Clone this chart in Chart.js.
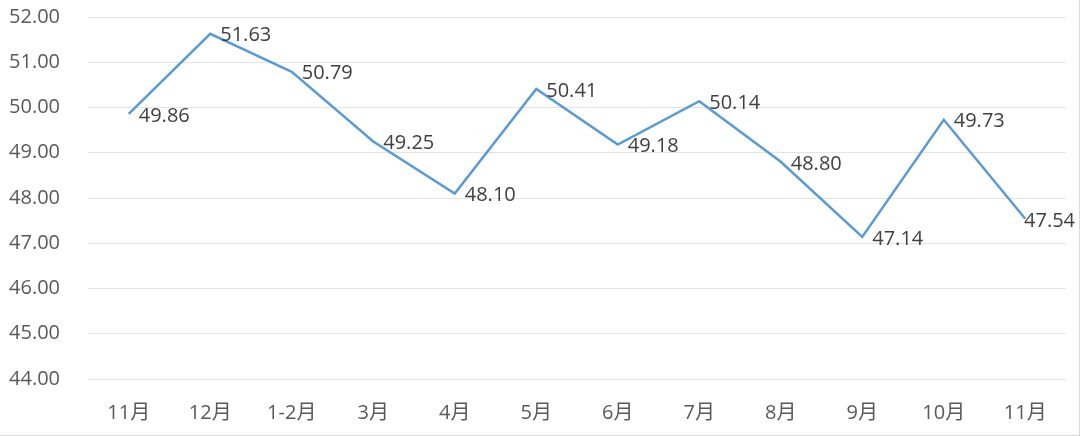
<!DOCTYPE html>
<html>
<head>
<meta charset="utf-8">
<script src="https://cdn.jsdelivr.net/npm/chart.js@4"></script>
<style>
    html, body { margin: 0; padding: 0; background: #ffffff; }
    #wrap { position: relative; width: 1080px; height: 436px; box-sizing: border-box; border-right: 1px solid #d9d9d9; border-bottom: 1px solid #d9d9d9; }
</style>
</head>
<body>
<div id="wrap"><canvas id="lineChart" width="1079" height="435"></canvas></div>
<script>
// Chart data
const months = ['11月', '12月', '1-2月', '3月', '4月', '5月', '6月', '7月', '8月', '9月', '10月', '11月'];
const values = [49.86, 51.63, 50.79, 49.25, 48.10, 50.41, 49.18, 50.14, 48.80, 47.14, 49.73, 47.54];
const yTicks = [44, 45, 46, 47, 48, 49, 50, 51, 52];

const fontFamily = "'Open Sans', 'Noto Sans CJK SC', sans-serif";

// Draw value labels to the right of each point
const valueLabels = {
    id: 'valueLabels',
    afterDatasetsDraw(chart) {
        const ctx = chart.ctx;
        const meta = chart.getDatasetMeta(0);
        ctx.save();
        ctx.font = '20px ' + fontFamily;
        ctx.fillStyle = '#404040';
        ctx.textAlign = 'left';
        ctx.textBaseline = 'middle';
        meta.data.forEach((pt, i) => {
            const text = values[i].toFixed(2);
            const w = ctx.measureText(text).width;
            let x = pt.x + 10;
            if (x + w > chart.width - 4) x = chart.width - 4 - w;
            ctx.fillText(text, x, pt.y + 2);
        });
        ctx.restore();
    }
};

const ctx = document.getElementById('lineChart').getContext('2d');

new Chart(ctx, {
    type: 'line',
    data: {
        labels: months,
        datasets: [{
            data: values,
            borderColor: '#5b9bd5',
            borderWidth: 2.5,
            pointRadius: 0,
            tension: 0,
            fill: false
        }]
    },
    options: {
        responsive: false,
        animation: false,
        layout: {
            padding: { top: 17, right: 13, bottom: 0, left: 0 }
        },
        plugins: {
            legend: { display: false },
            tooltip: { enabled: false }
        },
        scales: {
            x: {
                offset: true,
                grid: { display: false, drawTicks: false },
                border: { display: false },
                ticks: {
                    color: '#595959',
                    font: { size: 20, family: fontFamily },
                    padding: 22,
                    autoSkip: false,
                    maxRotation: 0
                },
                afterFit(scale) { scale.height = 56; }
            },
            y: {
                min: 44,
                max: 52,
                afterBuildTicks(scale) {
                    scale.ticks = yTicks.map(v => ({ value: v }));
                },
                grid: { color: '#e4e4e4', lineWidth: 1, drawTicks: false },
                border: { display: false },
                ticks: {
                    color: '#595959',
                    font: { size: 20, family: fontFamily },
                    padding: 28,
                    callback: v => Number(v).toFixed(2)
                },
                afterFit(scale) {
                    scale.width = 88;
                    scale.paddingTop = 0;
                    scale.paddingBottom = 0;
                }
            }
        }
    },
    plugins: [valueLabels]
});
</script>
</body>
</html>
